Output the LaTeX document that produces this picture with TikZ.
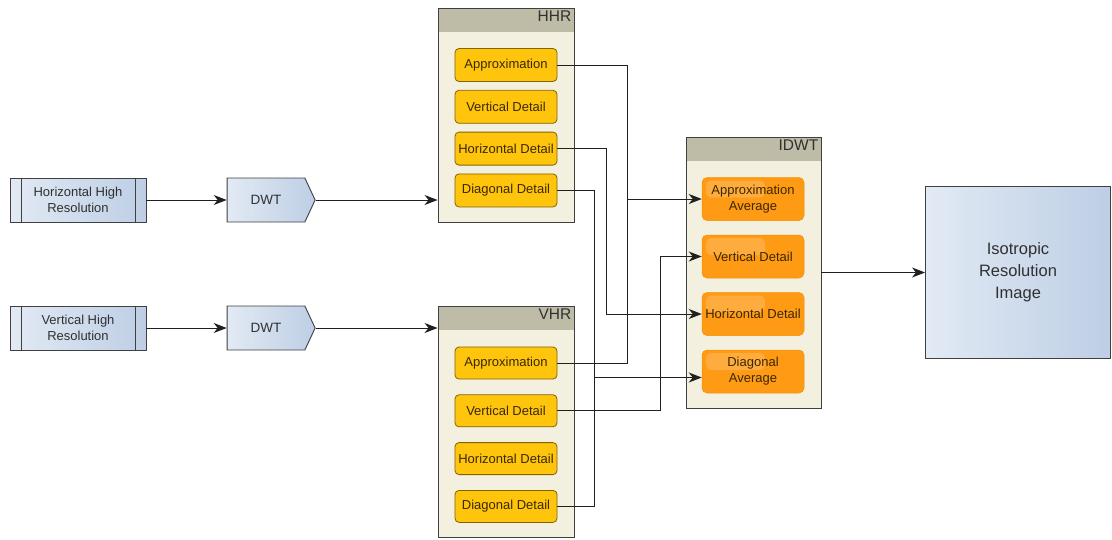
\documentclass[tikz,border=0pt]{standalone}
\usepackage{fontspec}
\setmainfont{Liberation Sans}
\usepackage{tikz}
\usetikzlibrary{arrows.meta,positioning,shapes.symbols,calc}
\usepackage{xcolor}

\definecolor{edge}{HTML}{404040}
\definecolor{wire}{HTML}{202020}
\definecolor{srcleft}{HTML}{E2EAF4}
\definecolor{srcright}{HTML}{BDCEE5}
\definecolor{beige}{HTML}{F3F0DF}
\definecolor{hdr}{HTML}{BEBBA7}
\definecolor{hdrtext}{HTML}{303030}
\definecolor{gold}{HTML}{FFC40C}
\definecolor{goldedge}{HTML}{806400}
\definecolor{brown}{HTML}{3A2800}
\definecolor{orng}{HTML}{FF9A14}
\definecolor{orngedge}{HTML}{F39000}

\begin{document}
\begin{tikzpicture}[
  x=1pt, y=-1pt,
  src/.style={draw=edge, line width=0.9pt, left color=srcleft, right color=srcright,
    minimum width=136pt, minimum height=44pt, align=center, inner sep=0pt,
    font=\fontsize{13}{15.5}\selectfont, text=hdrtext,
    path picture={\draw[edge, line width=0.9pt]
      ([xshift=11pt]path picture bounding box.north west) -- ([xshift=11pt]path picture bounding box.south west)
      ([xshift=-11pt]path picture bounding box.north east) -- ([xshift=-11pt]path picture bounding box.south east);}},
  dwt/.style={signal, signal to=east, signal pointer angle=130, draw=edge, line width=0.9pt,
    left color=srcleft, right color=srcright, minimum width=88pt, minimum height=44pt,
    inner sep=0pt, font=\fontsize{13.5}{16}\selectfont, text=hdrtext},
  grp/.style={draw=edge, line width=0.9pt, fill=beige, inner sep=0pt,
    path picture={\fill[hdr] (path picture bounding box.north west) rectangle
      ([yshift=-24pt]path picture bounding box.north east);}},
  hd/.style={anchor=north east, inner sep=3pt, font=\fontsize{15.5}{17}\selectfont, text=hdrtext},
  part/.style={draw=goldedge, line width=0.8pt, fill=gold, rounded corners=4pt,
    minimum width=102pt, minimum height=33pt, inner sep=1pt,
    font=\fontsize{13}{15}\selectfont, text=brown},
  avg/.style={draw=orngedge, line width=0.5pt, fill=orng, rounded corners=5pt,
    minimum width=102pt, minimum height=43pt, inner sep=1pt, align=center,
    font=\fontsize{13}{16}\selectfont, text=brown,
    path picture={\fill[white, opacity=.18, rounded corners=5pt]
      ([shift={(4pt,-3pt)}]path picture bounding box.north west) rectangle
      ([shift={(63pt,-20pt)}]path picture bounding box.north west);}},
  res/.style={draw=edge, line width=0.9pt, left color=srcleft, right color=srcright,
    minimum width=185pt, minimum height=172pt, align=center,
    font=\fontsize{16.5}{22}\selectfont, text=hdrtext},
  wr/.style={draw=wire, line width=1pt},
  arr/.style={wr, -{Stealth[length=13pt, width=10pt, inset=4pt]}}
]
\useasboundingbox (0,0) rectangle (1112,539);

% inputs
\node[src] (hsrc) at (78,200) {Horizontal High\\Resolution};
\node[src] (vsrc) at (78,328) {Vertical High\\Resolution};
\node[dwt] (hdwt) at (266,200) {DWT};
\node[dwt] (vdwt) at (266,328) {DWT};

% decomposed bands
\node[grp, minimum width=136pt, minimum height=214pt, label={[hd]north east:HHR}] (hhr) at (506,115) {};
\node[part] (hA) at (506,65) {Approximation};
\node[part, below=8pt of hA] (hV) {Vertical Detail};
\node[part, below=8pt of hV] (hH) {Horizontal Detail};
\node[part, below=8pt of hH] (hD) {Diagonal Detail};

\node[grp, minimum width=136pt, minimum height=231pt, label={[hd]north east:VHR}] (vhr) at (506,421.5) {};
\node[part, minimum height=32pt] (vA) at (506,363) {Approximation};
\node[part, minimum height=32pt, below=15pt of vA] (vV) {Vertical Detail};
\node[part, minimum height=32pt, below=15pt of vV] (vH) {Horizontal Detail};
\node[part, minimum height=32pt, below=15pt of vH] (vD) {Diagonal Detail};

% fusion
\node[grp, minimum width=135pt, minimum height=271pt, label={[hd]north east:IDWT}] (idwt) at (753.5,272.5) {};
\node[avg] (iA) at (753,199) {Approximation\\Average};
\node[avg, below=14pt of iA] (iV) {Vertical Detail};
\node[avg, below=14pt of iV] (iH) {Horizontal Detail};
\node[avg, below=14pt of iH] (iD) {Diagonal\\Average};

\node[res] (out) at (1018,272) {Isotropic\\Resolution\\Image};

\coordinate (busD) at (594,0);
\coordinate (busH) at (606,0);
\coordinate (busA) at (627,0);
\coordinate (busV) at (660,0);

\draw[arr] (hsrc.east) -- (hdwt.west);
\draw[arr] (vsrc.east) -- (vdwt.west);
\draw[arr] (hdwt.east) -- (hdwt.east -| hhr.west);
\draw[arr] (vdwt.east) -- (vdwt.east -| vhr.west);

\draw[arr] (hA.east) -- (hA.east -| busA) |- (iA.west);
\draw[wr] (vA.east) -| (iA.west -| busA);
\draw[arr] (vV.east) -- (vV.east -| busV) |- (iV.west);
\draw[arr] (hH.east) -- (hH.east -| busH) |- (iH.west);
\draw[arr] (hD.east) -- (hD.east -| busD) |- ([yshift=-6pt]iD.west);
\draw[wr] (vD.east) -| ([yshift=-6pt]iD.west -| busD);

\draw[arr] (idwt.east) -- (idwt.east -| out.west);
\end{tikzpicture}
\end{document}
